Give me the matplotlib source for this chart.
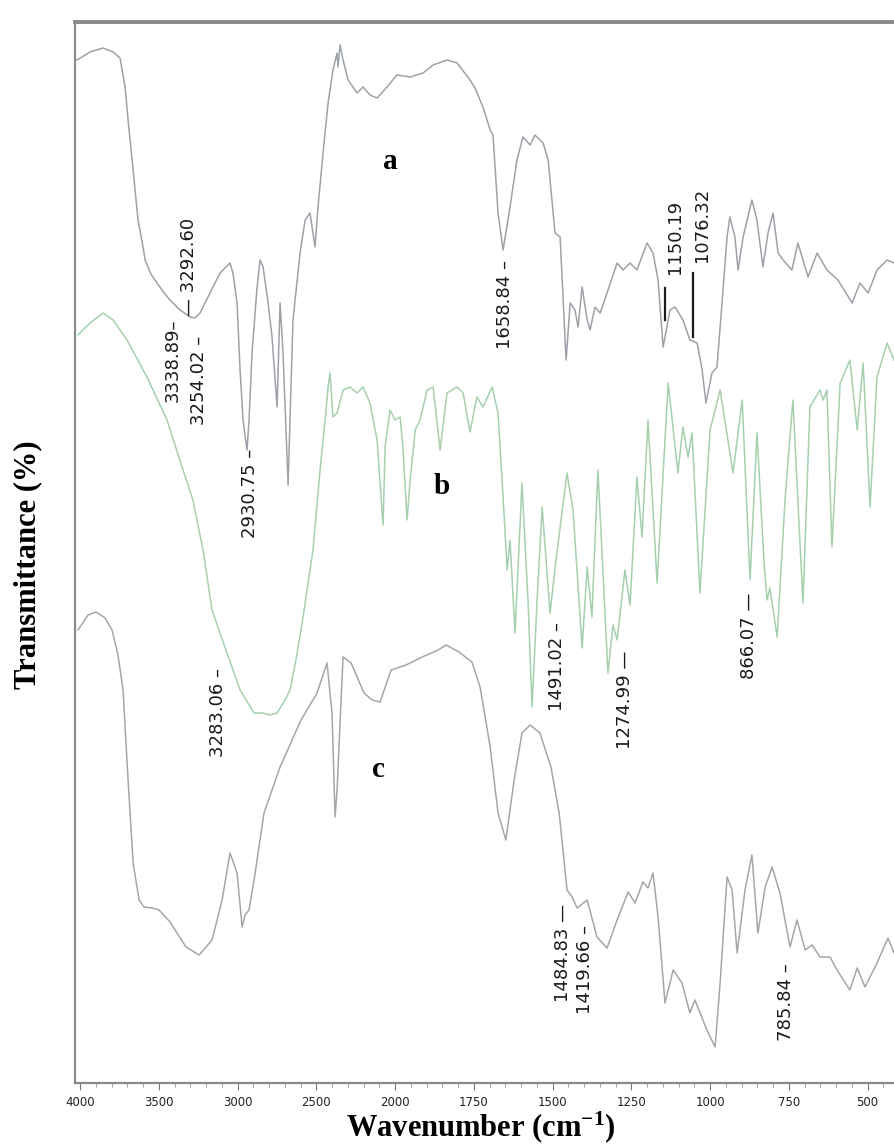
"""
FTIR spectra (a, b, c) redrawn from a scanned figure.
Values read off the picture by eye; transmittance is in arbitrary offset units.
"""

import numpy as np
import matplotlib
matplotlib.use('Agg')
import matplotlib.pyplot as plt
from matplotlib.ticker import FixedLocator, NullLocator

# ---- spectrum a (top, grey) ----
wn_a = [4019, 3937, 3854, 3790, 3746, 3714, 3695, 3663, 3632, 3600, 3587, 3550, 3511, 3470,
        3429, 3365, 3302, 3270,
        3238, 3175, 3111, 3048, 3029, 3003, 2984, 2965, 2940, 2927, 2908, 2876, 2857, 2838,
        2806, 2781, 2749, 2730, 2711, 2679, 2648, 2603, 2571, 2540, 2508, 2489, 2457, 2425,
        2394, 2368, 2362, 2349, 2330, 2298, 2241, 2203, 2159, 2114, 2051, 1994, 1952, 1911,
        1879, 1835, 1803, 1762, 1746, 1721, 1698, 1689, 1673, 1657, 1635, 1613, 1594, 1571,
        1556, 1530, 1514, 1492, 1476, 1457, 1444, 1429, 1419, 1406, 1390, 1381, 1365, 1349,
        1327, 1295, 1276, 1254, 1232, 1200, 1181, 1165, 1149, 1127, 1111, 1086, 1064, 1041,
        1025, 1013, 994, 978, 962, 946, 937, 921, 911, 895, 867, 851, 832, 816, 800, 784,
        768, 740, 721, 689, 660, 629, 594, 549, 524, 498, 470, 438, 416]
t_a = [102.3, 103.1, 103.5, 103.1, 102.5, 99.6, 96.3, 91.3, 86.3, 83.6, 82.3, 80.9, 80.0, 79.1,
       78.3, 77.3, 76.6, 76.5,
       77.0, 79.0, 81.0, 82.0, 81.0, 78.0, 71.3, 66.3, 63.3, 66.3, 73.0, 79.6, 82.3, 81.6,
       78.0, 74.6, 67.6, 78.0, 73.0, 59.8, 76.3, 83.0, 86.3, 87.0, 83.6, 87.6, 93.0, 98.0,
       101.3, 103.0, 101.6, 103.8, 102.3, 100.3, 99.0, 99.6, 98.8, 98.5, 99.6, 100.8, 100.6, 101.0,
       101.8, 102.3, 102.0, 100.3, 99.5, 97.6, 95.3, 94.8, 87.0, 83.3, 87.6, 92.3, 94.6, 93.8,
       94.8, 94.0, 92.3, 85.0, 84.6, 72.3, 78.0, 77.3, 75.6, 79.6, 76.3, 75.3, 77.6, 77.0,
       79.0, 82.0, 81.3, 82.0, 81.3, 84.0, 83.0, 80.3, 73.6, 77.3, 77.6, 76.3, 74.3, 74.0,
       71.3, 68.0, 71.0, 71.6, 78.0, 84.6, 86.6, 84.6, 81.3, 84.6, 88.3, 86.3, 81.6, 85.0, 87.0, 83.0,
       82.3, 81.3, 84.0, 80.6, 83.0, 81.3, 80.3, 78.0, 80.0, 79.0, 81.3, 82.3, 82.0]

# ---- spectrum b (middle, light green) ----
wn_b = [4013, 3937, 3854, 3790, 3702, 3575, 3448, 3346, 3283, 3219, 3162, 3067, 2984, 2895,
        2838, 2794, 2749, 2698, 2667, 2629, 2584, 2521, 2476, 2444, 2425, 2413, 2394, 2368,
        2330, 2286, 2241, 2203, 2159, 2114, 2076, 2063, 2032, 2000, 1984, 1975, 1962, 1952,
        1936, 1921, 1898, 1879, 1857, 1835, 1803, 1784, 1762, 1740, 1721, 1692, 1673, 1657,
        1644, 1635, 1619, 1597, 1578, 1565, 1549, 1533, 1508, 1489, 1454, 1435, 1406, 1390,
        1375, 1356, 1324, 1308, 1295, 1270, 1254, 1232, 1216, 1197, 1168, 1133, 1102, 1086,
        1070, 1057, 1032, 1000, 968, 927, 898, 873, 851, 829, 819, 810, 787, 762, 737, 705,
        683, 651, 641, 629, 613, 587, 556, 533, 514, 492, 470, 438, 416]
t_b = [74.8, 76.0, 77.0, 76.3, 74.3, 70.6, 66.3, 61.3, 58.3, 53.3, 47.3, 43.0, 39.3, 37.0,
       37.0, 36.8, 37.0, 38.3, 39.3, 42.3, 46.6, 53.3, 61.3, 66.3, 69.6, 71.0, 66.6, 67.0,
       69.3, 69.6, 69.0, 69.6, 68.0, 64.3, 55.8, 63.6, 67.3, 66.3, 66.6, 63.6, 56.3, 60.3,
       65.3, 66.3, 69.3, 69.6, 63.3, 69.0, 69.6, 69.0, 65.1, 68.6, 67.6, 69.6, 67.0, 58.6,
       51.3, 54.3, 45.0, 60.0, 48.3, 37.6, 48.3, 57.6, 47.0, 52.3, 61.0, 57.3, 43.5, 51.6,
       46.6, 61.3, 41.0, 45.8, 44.3, 51.3, 47.8, 60.6, 54.6, 66.3, 50.0, 70.0, 61.0, 65.6,
       62.6, 65.0, 49.0, 65.3, 69.3, 61.0, 68.3, 50.3, 65.0, 52.3, 48.3, 49.5, 44.6, 58.3, 68.3, 48.0,
       67.6, 69.3, 68.3, 69.3, 53.6, 70.0, 72.3, 65.3, 72.0, 57.6, 70.6, 74.0, 72.3]

# ---- spectrum c (bottom, grey) ----
wn_c = [4013, 3949, 3898, 3841, 3797, 3759, 3727, 3695, 3663, 3625, 3594, 3543, 3498, 3429,
        3327, 3244, 3162, 3098, 3048, 3003, 2971, 2952, 2927, 2895, 2832, 2730, 2597, 2495,
        2432, 2400, 2381, 2368, 2356, 2330, 2279, 2197, 2146, 2095, 2025, 1965, 1914, 1863,
        1838, 1797, 1756, 1730, 1698, 1673, 1648, 1622, 1597, 1571, 1540, 1505, 1479, 1467,
        1454, 1438, 1422, 1390, 1359, 1327, 1295, 1260, 1238, 1213, 1197, 1181, 1165, 1143,
        1117, 1089, 1064, 1048, 1010, 984, 968, 946, 930, 914, 889, 867, 848, 825, 803, 778,
        746, 724, 698, 676, 651, 619, 597, 556, 533, 508, 470, 435, 416]
t_c = [45.3, 46.8, 47.1, 46.5, 45.3, 42.8, 39.3, 30.3, 22.0, 18.3, 17.6, 17.5, 17.3, 16.1,
       13.6, 12.8, 14.3, 18.3, 23.0, 21.0, 15.6, 16.8, 17.3, 20.3, 27.0, 31.6, 36.3, 39.0,
       42.0, 37.0, 26.6, 29.3, 33.6, 42.6, 42.0, 39.0, 38.3, 38.1, 41.3, 41.8, 42.6, 43.3,
       43.8, 43.1, 42.1, 39.6, 33.6, 27.0, 24.3, 30.3, 35.0, 35.8, 35.0, 31.6, 27.0, 23.3,
       19.3, 18.6, 17.5, 18.3, 14.6, 13.5, 16.3, 19.1, 18.0, 20.1, 19.5, 21.0, 16.6, 8.0,
       11.3, 10.0, 7.0, 8.3, 5.3, 3.6, 10.0, 20.6, 19.3, 13.0, 19.3, 22.8, 15.0, 19.6, 21.6, 19.0,
       13.6, 16.3, 13.3, 13.8, 12.6, 12.6, 11.3, 9.3, 11.5, 9.6, 12.0, 14.5, 13.0]

# ---- peak labels: text, wavenumber, transmittance (label centre) ----
peak_text = ['3338.89\u2013', '3254.02 \u2013', '\u2014 3292.60', '2930.75 \u2013', '1658.84 \u2013',
             '1150.19', '1076.32', '3283.06 \u2013', '1491.02 \u2013', '1274.99 \u2014',
             '866.07 \u2014', '1484.83 \u2014', '1419.66 \u2013', '785.84 \u2013']
peak_wn = [3410, 3244, 3308, 2921, 1651, 1111, 1025, 3124, 1486, 1270, 876, 1467, 1397, 759]
peak_t = [72.3, 70.3, 81.6, 59.0, 77.8, 84.6, 85.8, 37.0, 41.6, 38.3, 44.7, 13.0, 11.3, 8.1]

# marker bars for 1150.19 and 1076.32
bar_wn = [1143, 1054]
bar_t0 = [79.5, 81.0]
bar_t1 = [76.3, 74.6]

# curve letters
letters = ['a', 'b', 'c']
letter_wn = [2032, 1851, 2108]
letter_t = [92.1, 59.6, 31.3]

major_ticks = [4000, 3500, 3000, 2500, 2000, 1750, 1500, 1250, 1000, 750, 500]


# x axis is compressed by 2 above 2000 cm-1, as on the instrument printout
def fwd(x):
    x = np.asarray(x, dtype=float)
    return np.where(x > 2000, 2000 + (x - 2000) / 2, x)


def inv(u):
    u = np.asarray(u, dtype=float)
    return np.where(u > 2000, 2000 + (u - 2000) * 2, u)


plt.rcParams['mathtext.fontset'] = 'custom'
plt.rcParams['mathtext.rm'] = 'Liberation Serif:bold'
plt.rcParams['mathtext.bf'] = 'Liberation Serif:bold'
plt.rcParams['mathtext.it'] = 'Liberation Serif:bold:italic'

fig = plt.figure(figsize=(8.94, 11.48), dpi=100)
ax = fig.add_axes([75 / 894, 1 - 1083 / 1148, 1 - 75 / 894, (1083 - 22) / 1148])

ax.plot(wn_a, t_a, color='#9da1a8', lw=1.1)
ax.plot(wn_b, t_b, color='#a6d0ad', lw=1.1)
ax.plot(wn_c, t_c, color='#a6a6a6', lw=1.1)

ax.set_xscale('function', functions=(fwd, inv))
ax.set_xlim(4032, 416)
ax.set_ylim(0, 106.1)

# peak annotations
for txt, x, y in zip(peak_text, peak_wn, peak_t):
    ax.text(x, y, txt, rotation=90, ha='center', va='center', fontsize=13,
            color='#1a1a1a', family='DejaVu Sans')
for x, y0, y1 in zip(bar_wn, bar_t0, bar_t1):
    ax.plot([x, x], [y0, y1], color='#1a1a1a', lw=1.6)

for lab, x, y in zip(letters, letter_wn, letter_t):
    ax.text(x, y, lab, ha='center', va='center', fontsize=21, fontweight='bold',
            family='Liberation Serif', color='black')

# ticks
ax.xaxis.set_major_locator(FixedLocator(major_ticks))
minor = [v for v in range(3900, 2000, -100) if v % 500 != 0] + \
        [v for v in range(1950, 400, -50) if v % 250 != 0]
ax.xaxis.set_minor_locator(FixedLocator(minor))
ax.set_xticklabels([str(v) for v in major_ticks])
ax.tick_params(axis='x', which='major', length=5, width=0.8, color='#777777',
               labelsize=8.5, pad=4, labelcolor='#222222')
ax.tick_params(axis='x', which='minor', length=3, width=0.6, color='#888888')
ax.yaxis.set_major_locator(NullLocator())

for side in ['left', 'bottom']:
    ax.spines[side].set_color('#8a8a8a')
    ax.spines[side].set_linewidth(1.6)
ax.spines['top'].set_color('#8a8a8a')
ax.spines['top'].set_linewidth(2.8)
ax.spines['right'].set_visible(False)

fig.text(481 / 894, 1 - 1127 / 1148, 'Wavenumber (cm$^{-1}$)', ha='center', va='center',
         fontsize=22, fontweight='bold', family='Liberation Serif')
fig.text(28 / 894, 1 - 565 / 1148, 'Transmittance (%)', ha='center', va='center',
         rotation=90, fontsize=22, fontweight='bold', family='Liberation Serif')

fig.savefig('out.png', dpi=100)
